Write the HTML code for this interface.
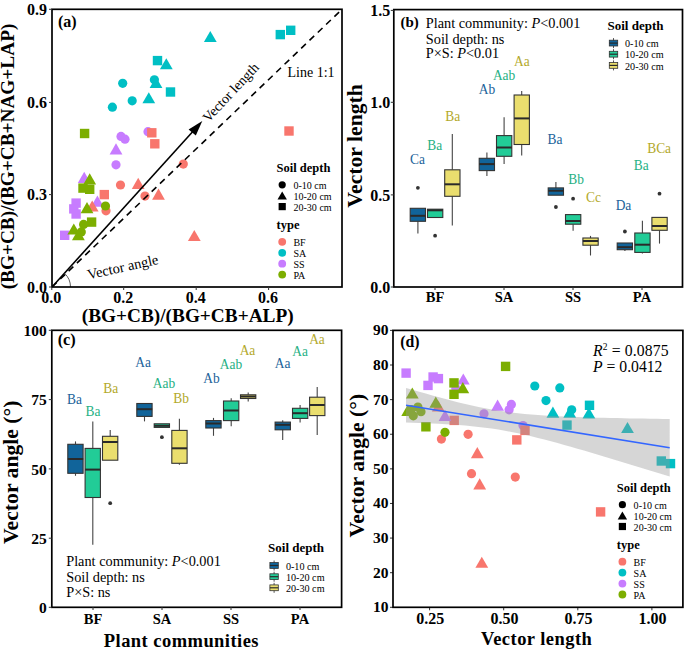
<!DOCTYPE html><html><head><meta charset="utf-8"><style>html,body{margin:0;padding:0;background:#fff;overflow:hidden}svg{display:block}</style></head><body>
<svg width="685" height="652" viewBox="0 0 685 652" style="font-family:'Liberation Serif',serif">
<rect width="685" height="652" fill="#fff"/>
<circle cx="112.4" cy="107.2" r="4.6" fill="#00BFC4"/>
<circle cx="122.7" cy="83.3" r="4.6" fill="#00BFC4"/>
<circle cx="132.2" cy="100.8" r="4.6" fill="#00BFC4"/>
<circle cx="154.4" cy="79.8" r="4.6" fill="#00BFC4"/>
<polygon points="156.0,77.0 149.6,88.0 162.4,88.0" fill="#00BFC4"/>
<polygon points="148.8,92.2 142.4,103.2 155.2,103.2" fill="#00BFC4"/>
<polygon points="166.3,58.2 159.9,69.2 172.7,69.2" fill="#00BFC4"/>
<polygon points="210.3,30.9 203.9,42.0 216.7,42.0" fill="#00BFC4"/>
<rect x="152.8" y="55.9" width="9.4" height="9.4" fill="#00BFC4"/>
<rect x="165.8" y="87.3" width="9.4" height="9.4" fill="#00BFC4"/>
<rect x="275.6" y="29.9" width="9.4" height="9.4" fill="#00BFC4"/>
<rect x="286.0" y="25.6" width="9.4" height="9.4" fill="#00BFC4"/>
<circle cx="121.0" cy="136.4" r="4.6" fill="#C77CFF"/>
<circle cx="125.0" cy="139.2" r="4.6" fill="#C77CFF"/>
<circle cx="148.0" cy="131.7" r="4.6" fill="#C77CFF"/>
<circle cx="116.0" cy="164.8" r="4.6" fill="#C77CFF"/>
<polygon points="116.0,143.2 109.6,154.4 122.4,154.4" fill="#C77CFF"/>
<polygon points="84.2,171.8 77.8,183.0 90.6,183.0" fill="#C77CFF"/>
<polygon points="97.4,195.6 91.0,206.8 103.8,206.8" fill="#C77CFF"/>
<rect x="71.4" y="198.4" width="9.4" height="9.4" fill="#C77CFF"/>
<rect x="69.1" y="204.2" width="9.4" height="9.4" fill="#C77CFF"/>
<rect x="71.4" y="209.3" width="9.4" height="9.4" fill="#C77CFF"/>
<rect x="60.0" y="230.6" width="9.4" height="9.4" fill="#C77CFF"/>
<circle cx="120.5" cy="185.0" r="4.6" fill="#F8766D"/>
<circle cx="145.0" cy="196.1" r="4.6" fill="#F8766D"/>
<circle cx="183.3" cy="164.1" r="4.6" fill="#F8766D"/>
<circle cx="106.0" cy="210.8" r="4.6" fill="#F8766D"/>
<polygon points="138.2,177.8 131.8,188.9 144.6,188.9" fill="#F8766D"/>
<polygon points="158.5,188.6 152.1,199.8 164.9,199.8" fill="#F8766D"/>
<polygon points="194.3,229.9 187.9,241.1 200.7,241.1" fill="#F8766D"/>
<polygon points="92.2,200.4 85.8,211.6 98.6,211.6" fill="#F8766D"/>
<rect x="147.1" y="128.1" width="9.4" height="9.4" fill="#F8766D"/>
<rect x="150.1" y="139.1" width="9.4" height="9.4" fill="#F8766D"/>
<rect x="99.6" y="189.9" width="9.4" height="9.4" fill="#F8766D"/>
<rect x="284.3" y="126.3" width="9.4" height="9.4" fill="#F8766D"/>
<rect x="79.9" y="128.8" width="9.4" height="9.4" fill="#7CAE00"/>
<polygon points="89.7,173.3 83.3,184.5 96.1,184.5" fill="#7CAE00"/>
<rect x="78.3" y="183.4" width="9.4" height="9.4" fill="#7CAE00"/>
<rect x="85.0" y="184.6" width="9.4" height="9.4" fill="#7CAE00"/>
<polygon points="87.0,202.1 80.6,213.2 93.4,213.2" fill="#7CAE00"/>
<circle cx="105.5" cy="206.0" r="4.6" fill="#7CAE00"/>
<rect x="86.9" y="217.4" width="9.4" height="9.4" fill="#7CAE00"/>
<circle cx="83.6" cy="224.4" r="4.6" fill="#7CAE00"/>
<circle cx="81.3" cy="231.9" r="4.6" fill="#7CAE00"/>
<polygon points="73.8,223.4 67.4,234.6 80.2,234.6" fill="#7CAE00"/>
<polygon points="78.4,229.1 72.0,240.2 84.8,240.2" fill="#7CAE00"/>
<line x1="52" y1="287" x2="342" y2="9.3" stroke="#000" stroke-width="1.6" stroke-dasharray="6.5,5"/>
<line x1="52" y1="287" x2="196" y2="128" stroke="#000" stroke-width="1.6"/>
<polygon points="202.3,120.9 188.6,129.6 195.8,135.4" fill="#000"/>
<path d="M 70.5 287 A 18.5 18.5 0 0 0 64.6 273.4" fill="none" stroke="#333" stroke-width="0.8"/>
<rect x="52" y="9.3" width="290" height="277.7" fill="none" stroke="#000" stroke-width="1.7"/>
<line x1="49" y1="9.3" x2="52" y2="9.3" stroke="#333" stroke-width="1"/>
<text x="47" y="15.100000000000001" font-size="16" font-weight="bold" text-anchor="end" fill="#000" >0.9</text>
<line x1="49" y1="102.4" x2="52" y2="102.4" stroke="#333" stroke-width="1"/>
<text x="47" y="108.2" font-size="16" font-weight="bold" text-anchor="end" fill="#000" >0.6</text>
<line x1="49" y1="194.6" x2="52" y2="194.6" stroke="#333" stroke-width="1"/>
<text x="47" y="200.4" font-size="16" font-weight="bold" text-anchor="end" fill="#000" >0.3</text>
<line x1="49" y1="287" x2="52" y2="287" stroke="#333" stroke-width="1"/>
<text x="47" y="292.8" font-size="16" font-weight="bold" text-anchor="end" fill="#000" >0.0</text>
<line x1="51.8" y1="287" x2="51.8" y2="290" stroke="#333" stroke-width="1"/>
<text x="51.3" y="303.1" font-size="16" font-weight="bold" text-anchor="middle" fill="#000" >0.0</text>
<line x1="123.7" y1="287" x2="123.7" y2="290" stroke="#333" stroke-width="1"/>
<text x="123.2" y="303.1" font-size="16" font-weight="bold" text-anchor="middle" fill="#000" >0.2</text>
<line x1="196.2" y1="287" x2="196.2" y2="290" stroke="#333" stroke-width="1"/>
<text x="195.7" y="303.1" font-size="16" font-weight="bold" text-anchor="middle" fill="#000" >0.4</text>
<line x1="268.6" y1="287" x2="268.6" y2="290" stroke="#333" stroke-width="1"/>
<text x="268.1" y="303.1" font-size="16" font-weight="bold" text-anchor="middle" fill="#000" >0.6</text>
<text x="58" y="27" font-size="16" font-weight="bold" text-anchor="start" fill="#000" >(a)</text>
<text x="287.5" y="77.3" font-size="14" font-weight="normal" text-anchor="start" fill="#000" >Line 1:1</text>
<text x="0" y="0" font-size="14" font-weight="normal" text-anchor="start" fill="#000" transform="translate(208.5,123) rotate(-47)">Vector length</text>
<text x="0" y="0" font-size="14.4" font-weight="normal" text-anchor="start" fill="#000" transform="translate(88.5,279.5) rotate(-12.5)">Vector angle</text>
<text x="276.6" y="172" font-size="12.5" font-weight="bold" text-anchor="start" fill="#000" >Soil depth</text>
<circle cx="282.2" cy="184.8" r="3.6" fill="#000"/>
<polygon points="282.2,191.6 277.5,199.6 286.9,199.6" fill="#000"/>
<rect x="278.6" y="203.0" width="7.2" height="7.2" fill="#000"/>
<text x="0" y="0" font-size="10.6" font-weight="normal" text-anchor="start" fill="#000" transform="translate(293.40000000000003,189.2) scale(0.95,1)">0-10 cm</text>
<text x="0" y="0" font-size="10.6" font-weight="normal" text-anchor="start" fill="#000" transform="translate(293.40000000000003,200.0) scale(0.95,1)">10-20 cm</text>
<text x="0" y="0" font-size="10.6" font-weight="normal" text-anchor="start" fill="#000" transform="translate(293.40000000000003,211.0) scale(0.95,1)">20-30 cm</text>
<text x="276.6" y="229" font-size="12.5" font-weight="bold" text-anchor="start" fill="#000" >type</text>
<circle cx="282.2" cy="241.8" r="3.9" fill="#F8766D"/>
<text x="0" y="0" font-size="10.6" font-weight="normal" text-anchor="start" fill="#000" transform="translate(293.40000000000003,246.2) scale(0.95,1)">BF</text>
<circle cx="282.2" cy="252.8" r="3.9" fill="#00BFC4"/>
<text x="0" y="0" font-size="10.6" font-weight="normal" text-anchor="start" fill="#000" transform="translate(293.40000000000003,257.1) scale(0.95,1)">SA</text>
<circle cx="282.2" cy="263.7" r="3.9" fill="#C77CFF"/>
<text x="0" y="0" font-size="10.6" font-weight="normal" text-anchor="start" fill="#000" transform="translate(293.40000000000003,268.1) scale(0.95,1)">SS</text>
<circle cx="282.2" cy="274.6" r="3.9" fill="#7CAE00"/>
<text x="0" y="0" font-size="10.6" font-weight="normal" text-anchor="start" fill="#000" transform="translate(293.40000000000003,279.0) scale(0.95,1)">PA</text>
<text x="187.7" y="321.6" font-size="19.3" font-weight="bold" text-anchor="middle" fill="#000" >(BG+CB)/(BG+CB+ALP)</text>
<text x="0" y="0" font-size="19.3" font-weight="bold" text-anchor="middle" fill="#000" transform="translate(14.3,156.5) rotate(-90)">(BG+CB)/(BG+CB+NAG+LAP)</text>
<rect x="393.8" y="9.6" width="288.7" height="277.4" fill="none" stroke="#000" stroke-width="1.7"/>
<line x1="390.8" y1="10.4" x2="393.8" y2="10.4" stroke="#333" stroke-width="1"/>
<text x="390.2" y="16.1" font-size="16" font-weight="bold" text-anchor="end" fill="#000" >1.5</text>
<line x1="390.8" y1="102.3" x2="393.8" y2="102.3" stroke="#333" stroke-width="1"/>
<text x="390.2" y="108.0" font-size="16" font-weight="bold" text-anchor="end" fill="#000" >1.0</text>
<line x1="390.8" y1="194.9" x2="393.8" y2="194.9" stroke="#333" stroke-width="1"/>
<text x="390.2" y="200.6" font-size="16" font-weight="bold" text-anchor="end" fill="#000" >0.5</text>
<line x1="390.8" y1="287" x2="393.8" y2="287" stroke="#333" stroke-width="1"/>
<text x="390.2" y="292.7" font-size="16" font-weight="bold" text-anchor="end" fill="#000" >0.0</text>
<line x1="435" y1="287" x2="435" y2="290" stroke="#333" stroke-width="1"/>
<text x="435" y="302.2" font-size="14.5" font-weight="bold" text-anchor="middle" fill="#000" >BF</text>
<line x1="504" y1="287" x2="504" y2="290" stroke="#333" stroke-width="1"/>
<text x="504" y="302.2" font-size="14.5" font-weight="bold" text-anchor="middle" fill="#000" >SA</text>
<line x1="573" y1="287" x2="573" y2="290" stroke="#333" stroke-width="1"/>
<text x="573" y="302.2" font-size="14.5" font-weight="bold" text-anchor="middle" fill="#000" >SS</text>
<line x1="642" y1="287" x2="642" y2="290" stroke="#333" stroke-width="1"/>
<text x="642" y="302.2" font-size="14.5" font-weight="bold" text-anchor="middle" fill="#000" >PA</text>
<text x="400.4" y="27.3" font-size="15" font-weight="bold" text-anchor="start" fill="#000" >(b)</text>
<text x="425.8" y="28.2" font-size="14.3" font-weight="normal" text-anchor="start" fill="#000" >Plant community: <tspan font-style="italic">P</tspan>&lt;0.001</text>
<text x="425.8" y="43.6" font-size="14.3" font-weight="normal" text-anchor="start" fill="#000" >Soil depth: ns</text>
<text x="425.8" y="58.2" font-size="14.3" font-weight="normal" text-anchor="start" fill="#000" >P×S: <tspan font-style="italic">P</tspan>&lt;0.01</text>
<text x="607.5" y="29.7" font-size="13" font-weight="bold" text-anchor="start" fill="#000" >Soil depth</text>
<line x1="613.5" y1="38.1" x2="613.5" y2="48.1" stroke="#555" stroke-width="1"/>
<rect x="609.3" y="40.2" width="8.4" height="5.8" fill="#11649A" stroke="#333" stroke-width="0.8"/>
<line x1="609.3" y1="43.1" x2="617.7" y2="43.1" stroke="#2a2a2a" stroke-width="1.2"/>
<text x="0" y="0" font-size="10.7" font-weight="normal" text-anchor="start" fill="#000" transform="translate(625,47.2) scale(0.95,1)">0-10 cm</text>
<line x1="613.5" y1="49.2" x2="613.5" y2="59.2" stroke="#555" stroke-width="1"/>
<rect x="609.3" y="51.300000000000004" width="8.4" height="5.8" fill="#22CC97" stroke="#333" stroke-width="0.8"/>
<line x1="609.3" y1="54.2" x2="617.7" y2="54.2" stroke="#2a2a2a" stroke-width="1.2"/>
<text x="0" y="0" font-size="10.7" font-weight="normal" text-anchor="start" fill="#000" transform="translate(625,58.3) scale(0.95,1)">10-20 cm</text>
<line x1="613.5" y1="60.400000000000006" x2="613.5" y2="70.4" stroke="#555" stroke-width="1"/>
<rect x="609.3" y="62.50000000000001" width="8.4" height="5.8" fill="#EADE6E" stroke="#333" stroke-width="0.8"/>
<line x1="609.3" y1="65.4" x2="617.7" y2="65.4" stroke="#2a2a2a" stroke-width="1.2"/>
<text x="0" y="0" font-size="10.7" font-weight="normal" text-anchor="start" fill="#000" transform="translate(625,69.5) scale(0.95,1)">20-30 cm</text>
<text x="0" y="0" font-size="21.7" font-weight="bold" text-anchor="middle" fill="#000" transform="translate(361.8,145.9) rotate(-90)">Vector length</text>
<line x1="417.9" y1="221.3" x2="417.9" y2="233.6" stroke="#444" stroke-width="1.1"/>
<rect x="410.2" y="208.3" width="15.3" height="13.0" fill="#11649A" stroke="#333" stroke-width="1.1"/>
<line x1="410.2" y1="215.8" x2="425.5" y2="215.8" stroke="#2a2a2a" stroke-width="2"/>
<circle cx="417.9" cy="187.8" r="1.9" fill="#333"/>
<rect x="427.5" y="209.2" width="15.3" height="8.3" fill="#22CC97" stroke="#333" stroke-width="1.1"/>
<line x1="427.5" y1="210.3" x2="442.8" y2="210.3" stroke="#2a2a2a" stroke-width="2"/>
<circle cx="435.1" cy="235.7" r="1.9" fill="#333"/>
<line x1="452.3" y1="134" x2="452.3" y2="169.8" stroke="#444" stroke-width="1.1"/>
<line x1="452.3" y1="196.3" x2="452.3" y2="225.6" stroke="#444" stroke-width="1.1"/>
<rect x="444.7" y="169.8" width="15.3" height="26.5" fill="#EADE6E" stroke="#333" stroke-width="1.1"/>
<line x1="444.7" y1="184.3" x2="459.9" y2="184.3" stroke="#2a2a2a" stroke-width="2"/>
<line x1="486.9" y1="152.5" x2="486.9" y2="158.3" stroke="#444" stroke-width="1.1"/>
<line x1="486.9" y1="170.6" x2="486.9" y2="175.9" stroke="#444" stroke-width="1.1"/>
<rect x="479.2" y="158.3" width="15.3" height="12.3" fill="#11649A" stroke="#333" stroke-width="1.1"/>
<line x1="479.2" y1="164.1" x2="494.5" y2="164.1" stroke="#2a2a2a" stroke-width="2"/>
<line x1="504.1" y1="117.2" x2="504.1" y2="135.6" stroke="#444" stroke-width="1.1"/>
<line x1="504.1" y1="156.3" x2="504.1" y2="164.1" stroke="#444" stroke-width="1.1"/>
<rect x="496.5" y="135.6" width="15.3" height="20.7" fill="#22CC97" stroke="#333" stroke-width="1.1"/>
<line x1="496.5" y1="147.5" x2="511.8" y2="147.5" stroke="#2a2a2a" stroke-width="2"/>
<line x1="521.7" y1="91" x2="521.7" y2="95" stroke="#444" stroke-width="1.1"/>
<line x1="521.7" y1="144.5" x2="521.7" y2="155.5" stroke="#444" stroke-width="1.1"/>
<rect x="514.1" y="95" width="15.3" height="49.5" fill="#EADE6E" stroke="#333" stroke-width="1.1"/>
<line x1="514.1" y1="118.4" x2="529.4" y2="118.4" stroke="#2a2a2a" stroke-width="2"/>
<line x1="555.9" y1="182.1" x2="555.9" y2="187.9" stroke="#444" stroke-width="1.1"/>
<rect x="548.2" y="187.9" width="15.3" height="7.3" fill="#11649A" stroke="#333" stroke-width="1.1"/>
<line x1="548.2" y1="190.7" x2="563.5" y2="190.7" stroke="#2a2a2a" stroke-width="2"/>
<circle cx="555.9" cy="207" r="1.9" fill="#333"/>
<line x1="573.1" y1="224.2" x2="573.1" y2="230.7" stroke="#444" stroke-width="1.1"/>
<rect x="565.5" y="214.6" width="15.3" height="9.6" fill="#22CC97" stroke="#333" stroke-width="1.1"/>
<line x1="565.5" y1="221" x2="580.8" y2="221" stroke="#2a2a2a" stroke-width="2"/>
<circle cx="573.1" cy="198.7" r="1.9" fill="#333"/>
<line x1="590.5" y1="235.9" x2="590.5" y2="238" stroke="#444" stroke-width="1.1"/>
<line x1="590.5" y1="245.2" x2="590.5" y2="255.5" stroke="#444" stroke-width="1.1"/>
<rect x="582.9" y="238" width="15.3" height="7.2" fill="#EADE6E" stroke="#333" stroke-width="1.1"/>
<line x1="582.9" y1="241" x2="598.1" y2="241" stroke="#2a2a2a" stroke-width="2"/>
<line x1="624.9" y1="249.7" x2="624.9" y2="250.9" stroke="#444" stroke-width="1.1"/>
<rect x="617.2" y="243" width="15.3" height="6.7" fill="#11649A" stroke="#333" stroke-width="1.1"/>
<line x1="617.2" y1="247.2" x2="632.5" y2="247.2" stroke="#2a2a2a" stroke-width="2"/>
<circle cx="624.9" cy="231.5" r="1.9" fill="#333"/>
<line x1="642.4" y1="220.7" x2="642.4" y2="233" stroke="#444" stroke-width="1.1"/>
<line x1="642.4" y1="252.4" x2="642.4" y2="253.6" stroke="#444" stroke-width="1.1"/>
<rect x="634.8" y="233" width="15.3" height="19.4" fill="#22CC97" stroke="#333" stroke-width="1.1"/>
<line x1="634.8" y1="244.7" x2="650.0" y2="244.7" stroke="#2a2a2a" stroke-width="2"/>
<line x1="659.5" y1="230.3" x2="659.5" y2="243.6" stroke="#444" stroke-width="1.1"/>
<rect x="651.9" y="217.4" width="15.3" height="12.9" fill="#EADE6E" stroke="#333" stroke-width="1.1"/>
<line x1="651.9" y1="226" x2="667.1" y2="226" stroke="#2a2a2a" stroke-width="2"/>
<circle cx="659.5" cy="193.7" r="1.9" fill="#333"/>
<text x="0" y="0" font-size="14" font-weight="normal" text-anchor="middle" fill="#22639A" transform="translate(417.5,163.5) scale(0.96,1)">Ca</text>
<text x="0" y="0" font-size="14" font-weight="normal" text-anchor="middle" fill="#27B184" transform="translate(434.7,149.9) scale(0.96,1)">Ba</text>
<text x="0" y="0" font-size="14" font-weight="normal" text-anchor="middle" fill="#B3A92C" transform="translate(452.7,120.89999999999999) scale(0.96,1)">Ba</text>
<text x="0" y="0" font-size="14" font-weight="normal" text-anchor="middle" fill="#22639A" transform="translate(486.9,94.19999999999999) scale(0.96,1)">Ab</text>
<text x="0" y="0" font-size="14" font-weight="normal" text-anchor="middle" fill="#27B184" transform="translate(504.1,80.39999999999999) scale(0.96,1)">Aab</text>
<text x="0" y="0" font-size="14" font-weight="normal" text-anchor="middle" fill="#B3A92C" transform="translate(521.8,66.39999999999999) scale(0.96,1)">Aa</text>
<text x="0" y="0" font-size="14" font-weight="normal" text-anchor="middle" fill="#22639A" transform="translate(555,144.29999999999998) scale(0.96,1)">Ba</text>
<text x="0" y="0" font-size="14" font-weight="normal" text-anchor="middle" fill="#27B184" transform="translate(576.1,183.9) scale(0.96,1)">Bb</text>
<text x="0" y="0" font-size="14" font-weight="normal" text-anchor="middle" fill="#B3A92C" transform="translate(593.5,201.79999999999998) scale(0.96,1)">Cc</text>
<text x="0" y="0" font-size="14" font-weight="normal" text-anchor="middle" fill="#22639A" transform="translate(623.5,209.5) scale(0.96,1)">Da</text>
<text x="0" y="0" font-size="14" font-weight="normal" text-anchor="middle" fill="#27B184" transform="translate(641.2,170.4) scale(0.96,1)">Ba</text>
<text x="0" y="0" font-size="14" font-weight="normal" text-anchor="middle" fill="#B3A92C" transform="translate(659.1,153.29999999999998) scale(0.96,1)">BCa</text>
<rect x="51.8" y="330.3" width="289.8" height="276.99999999999994" fill="none" stroke="#000" stroke-width="1.7"/>
<line x1="48.8" y1="330.3" x2="51.8" y2="330.3" stroke="#333" stroke-width="1"/>
<text x="46.8" y="336.0" font-size="15.5" font-weight="bold" text-anchor="end" fill="#000" >100</text>
<line x1="48.8" y1="399.6" x2="51.8" y2="399.6" stroke="#333" stroke-width="1"/>
<text x="46.8" y="405.3" font-size="15.5" font-weight="bold" text-anchor="end" fill="#000" >75</text>
<line x1="48.8" y1="468.9" x2="51.8" y2="468.9" stroke="#333" stroke-width="1"/>
<text x="46.8" y="474.59999999999997" font-size="15.5" font-weight="bold" text-anchor="end" fill="#000" >50</text>
<line x1="48.8" y1="538.2" x2="51.8" y2="538.2" stroke="#333" stroke-width="1"/>
<text x="46.8" y="543.9000000000001" font-size="15.5" font-weight="bold" text-anchor="end" fill="#000" >25</text>
<line x1="48.8" y1="607.3" x2="51.8" y2="607.3" stroke="#333" stroke-width="1"/>
<text x="46.8" y="613.0" font-size="15.5" font-weight="bold" text-anchor="end" fill="#000" >0</text>
<line x1="93" y1="607" x2="93" y2="610" stroke="#333" stroke-width="1"/>
<text x="93" y="623.8" font-size="14.5" font-weight="bold" text-anchor="middle" fill="#000" >BF</text>
<line x1="162" y1="607" x2="162" y2="610" stroke="#333" stroke-width="1"/>
<text x="162" y="623.8" font-size="14.5" font-weight="bold" text-anchor="middle" fill="#000" >SA</text>
<line x1="231" y1="607" x2="231" y2="610" stroke="#333" stroke-width="1"/>
<text x="231" y="623.8" font-size="14.5" font-weight="bold" text-anchor="middle" fill="#000" >SS</text>
<line x1="300" y1="607" x2="300" y2="610" stroke="#333" stroke-width="1"/>
<text x="300" y="623.8" font-size="14.5" font-weight="bold" text-anchor="middle" fill="#000" >PA</text>
<text x="57.7" y="345.4" font-size="16.3" font-weight="bold" text-anchor="start" fill="#000" >(c)</text>
<line x1="75.5" y1="441.4" x2="75.5" y2="444.3" stroke="#444" stroke-width="1.1"/>
<line x1="75.5" y1="473.3" x2="75.5" y2="475.8" stroke="#444" stroke-width="1.1"/>
<rect x="67.8" y="444.3" width="15.3" height="29.0" fill="#11649A" stroke="#333" stroke-width="1.1"/>
<line x1="67.8" y1="459" x2="83.2" y2="459" stroke="#2a2a2a" stroke-width="2"/>
<line x1="92.8" y1="421.5" x2="92.8" y2="448.4" stroke="#444" stroke-width="1.1"/>
<line x1="92.8" y1="497.5" x2="92.8" y2="544.8" stroke="#444" stroke-width="1.1"/>
<rect x="85.1" y="448.4" width="15.3" height="49.1" fill="#22CC97" stroke="#333" stroke-width="1.1"/>
<line x1="85.1" y1="469.6" x2="100.5" y2="469.6" stroke="#2a2a2a" stroke-width="2"/>
<line x1="110.2" y1="430" x2="110.2" y2="436.3" stroke="#444" stroke-width="1.1"/>
<rect x="102.5" y="436.3" width="15.3" height="23.9" fill="#EADE6E" stroke="#333" stroke-width="1.1"/>
<line x1="102.5" y1="442" x2="117.9" y2="442" stroke="#2a2a2a" stroke-width="2"/>
<circle cx="110.2" cy="503.2" r="1.9" fill="#333"/>
<line x1="144.5" y1="416.4" x2="144.5" y2="421.4" stroke="#444" stroke-width="1.1"/>
<rect x="136.8" y="403.5" width="15.3" height="12.9" fill="#11649A" stroke="#333" stroke-width="1.1"/>
<line x1="136.8" y1="409.2" x2="152.2" y2="409.2" stroke="#2a2a2a" stroke-width="2"/>
<rect x="154.2" y="423.8" width="15.3" height="3.6" fill="#22CC97" stroke="#333" stroke-width="1.1"/>
<line x1="154.2" y1="425.8" x2="169.6" y2="425.8" stroke="#2a2a2a" stroke-width="2"/>
<circle cx="161.9" cy="437.2" r="1.9" fill="#333"/>
<line x1="179.4" y1="418.8" x2="179.4" y2="430.4" stroke="#444" stroke-width="1.1"/>
<line x1="179.4" y1="463.3" x2="179.4" y2="464.7" stroke="#444" stroke-width="1.1"/>
<rect x="171.8" y="430.4" width="15.3" height="32.9" fill="#EADE6E" stroke="#333" stroke-width="1.1"/>
<line x1="171.8" y1="448.3" x2="187.1" y2="448.3" stroke="#2a2a2a" stroke-width="2"/>
<line x1="213.5" y1="417.9" x2="213.5" y2="420.6" stroke="#444" stroke-width="1.1"/>
<line x1="213.5" y1="428" x2="213.5" y2="435.8" stroke="#444" stroke-width="1.1"/>
<rect x="205.8" y="420.6" width="15.3" height="7.4" fill="#11649A" stroke="#333" stroke-width="1.1"/>
<line x1="205.8" y1="423.5" x2="221.2" y2="423.5" stroke="#2a2a2a" stroke-width="2"/>
<line x1="231.2" y1="398.2" x2="231.2" y2="401" stroke="#444" stroke-width="1.1"/>
<line x1="231.2" y1="420.6" x2="231.2" y2="426.3" stroke="#444" stroke-width="1.1"/>
<rect x="223.5" y="401" width="15.3" height="19.6" fill="#22CC97" stroke="#333" stroke-width="1.1"/>
<line x1="223.5" y1="410.5" x2="238.8" y2="410.5" stroke="#2a2a2a" stroke-width="2"/>
<line x1="248.2" y1="392.6" x2="248.2" y2="394.8" stroke="#444" stroke-width="1.1"/>
<line x1="248.2" y1="398.5" x2="248.2" y2="401.6" stroke="#444" stroke-width="1.1"/>
<rect x="240.5" y="394.8" width="15.3" height="3.7" fill="#EADE6E" stroke="#333" stroke-width="1.1"/>
<line x1="240.5" y1="396.5" x2="255.8" y2="396.5" stroke="#2a2a2a" stroke-width="2"/>
<line x1="282.7" y1="420.2" x2="282.7" y2="422.1" stroke="#444" stroke-width="1.1"/>
<line x1="282.7" y1="429.8" x2="282.7" y2="440" stroke="#444" stroke-width="1.1"/>
<rect x="275.1" y="422.1" width="15.3" height="7.7" fill="#11649A" stroke="#333" stroke-width="1.1"/>
<line x1="275.1" y1="424.8" x2="290.3" y2="424.8" stroke="#2a2a2a" stroke-width="2"/>
<line x1="300.1" y1="405.1" x2="300.1" y2="408.3" stroke="#444" stroke-width="1.1"/>
<line x1="300.1" y1="418.4" x2="300.1" y2="422.4" stroke="#444" stroke-width="1.1"/>
<rect x="292.5" y="408.3" width="15.3" height="10.1" fill="#22CC97" stroke="#333" stroke-width="1.1"/>
<line x1="292.5" y1="413.2" x2="307.8" y2="413.2" stroke="#2a2a2a" stroke-width="2"/>
<line x1="317.2" y1="387.1" x2="317.2" y2="397.2" stroke="#444" stroke-width="1.1"/>
<line x1="317.2" y1="415.6" x2="317.2" y2="435" stroke="#444" stroke-width="1.1"/>
<rect x="309.6" y="397.2" width="15.3" height="18.4" fill="#EADE6E" stroke="#333" stroke-width="1.1"/>
<line x1="309.6" y1="405" x2="324.8" y2="405" stroke="#2a2a2a" stroke-width="2"/>
<text x="0" y="0" font-size="14" font-weight="normal" text-anchor="middle" fill="#22639A" transform="translate(74.5,404.3) scale(0.96,1)">Ba</text>
<text x="0" y="0" font-size="14" font-weight="normal" text-anchor="middle" fill="#27B184" transform="translate(93,415.90000000000003) scale(0.96,1)">Ba</text>
<text x="0" y="0" font-size="14" font-weight="normal" text-anchor="middle" fill="#B3A92C" transform="translate(110.8,393.1) scale(0.96,1)">Ba</text>
<text x="0" y="0" font-size="14" font-weight="normal" text-anchor="middle" fill="#22639A" transform="translate(143.2,367.1) scale(0.96,1)">Aa</text>
<text x="0" y="0" font-size="14" font-weight="normal" text-anchor="middle" fill="#27B184" transform="translate(163.9,388.40000000000003) scale(0.96,1)">Aab</text>
<text x="0" y="0" font-size="14" font-weight="normal" text-anchor="middle" fill="#B3A92C" transform="translate(181.2,403.0) scale(0.96,1)">Bb</text>
<text x="0" y="0" font-size="14" font-weight="normal" text-anchor="middle" fill="#22639A" transform="translate(211.5,383.1) scale(0.96,1)">Ab</text>
<text x="0" y="0" font-size="14" font-weight="normal" text-anchor="middle" fill="#27B184" transform="translate(230.9,369.1) scale(0.96,1)">Aab</text>
<text x="0" y="0" font-size="14" font-weight="normal" text-anchor="middle" fill="#B3A92C" transform="translate(247.5,354.90000000000003) scale(0.96,1)">Aa</text>
<text x="0" y="0" font-size="14" font-weight="normal" text-anchor="middle" fill="#22639A" transform="translate(282.7,367.90000000000003) scale(0.96,1)">Aa</text>
<text x="0" y="0" font-size="14" font-weight="normal" text-anchor="middle" fill="#27B184" transform="translate(300.2,355.90000000000003) scale(0.96,1)">Aa</text>
<text x="0" y="0" font-size="14" font-weight="normal" text-anchor="middle" fill="#B3A92C" transform="translate(317,343.90000000000003) scale(0.96,1)">Aa</text>
<text x="66.2" y="566.1" font-size="14.3" font-weight="normal" text-anchor="start" fill="#000" >Plant community: <tspan font-style="italic">P</tspan>&lt;0.001</text>
<text x="66.2" y="581.8" font-size="14.3" font-weight="normal" text-anchor="start" fill="#000" >Soil depth: ns</text>
<text x="66.2" y="596.9" font-size="14.3" font-weight="normal" text-anchor="start" fill="#000" >P×S: ns</text>
<text x="268.1" y="551.7" font-size="13" font-weight="bold" text-anchor="start" fill="#000" >Soil depth</text>
<line x1="274.1" y1="560.5" x2="274.1" y2="570.5" stroke="#555" stroke-width="1"/>
<rect x="269.90000000000003" y="562.6" width="8.4" height="5.8" fill="#11649A" stroke="#333" stroke-width="0.8"/>
<line x1="269.90000000000003" y1="565.5" x2="278.3" y2="565.5" stroke="#2a2a2a" stroke-width="1.2"/>
<text x="0" y="0" font-size="10.7" font-weight="normal" text-anchor="start" fill="#000" transform="translate(285.9,569.6) scale(0.95,1)">0-10 cm</text>
<line x1="274.1" y1="571.7" x2="274.1" y2="581.7" stroke="#555" stroke-width="1"/>
<rect x="269.90000000000003" y="573.8000000000001" width="8.4" height="5.8" fill="#22CC97" stroke="#333" stroke-width="0.8"/>
<line x1="269.90000000000003" y1="576.7" x2="278.3" y2="576.7" stroke="#2a2a2a" stroke-width="1.2"/>
<text x="0" y="0" font-size="10.7" font-weight="normal" text-anchor="start" fill="#000" transform="translate(285.9,580.8) scale(0.95,1)">10-20 cm</text>
<line x1="274.1" y1="582.8" x2="274.1" y2="592.8" stroke="#555" stroke-width="1"/>
<rect x="269.90000000000003" y="584.9" width="8.4" height="5.8" fill="#EADE6E" stroke="#333" stroke-width="0.8"/>
<line x1="269.90000000000003" y1="587.8" x2="278.3" y2="587.8" stroke="#2a2a2a" stroke-width="1.2"/>
<text x="0" y="0" font-size="10.7" font-weight="normal" text-anchor="start" fill="#000" transform="translate(285.9,591.9) scale(0.95,1)">20-30 cm</text>
<text x="0" y="0" font-size="21.7" font-weight="bold" text-anchor="middle" fill="#000" transform="translate(17.5,472.3) rotate(-90)">Vector angle (°)</text>
<text x="181.4" y="647" font-size="18.5" font-weight="bold" text-anchor="middle" fill="#000" letter-spacing="0.45">Plant communities</text>
<line x1="390" y1="607.304" x2="393" y2="607.304" stroke="#333" stroke-width="1"/>
<text x="388.6" y="612.204" font-size="15.5" font-weight="bold" text-anchor="end" fill="#000" >10</text>
<line x1="390" y1="572.691" x2="393" y2="572.691" stroke="#333" stroke-width="1"/>
<text x="388.6" y="577.591" font-size="15.5" font-weight="bold" text-anchor="end" fill="#000" >20</text>
<line x1="390" y1="538.078" x2="393" y2="538.078" stroke="#333" stroke-width="1"/>
<text x="388.6" y="542.978" font-size="15.5" font-weight="bold" text-anchor="end" fill="#000" >30</text>
<line x1="390" y1="503.465" x2="393" y2="503.465" stroke="#333" stroke-width="1"/>
<text x="388.6" y="508.36499999999995" font-size="15.5" font-weight="bold" text-anchor="end" fill="#000" >40</text>
<line x1="390" y1="468.852" x2="393" y2="468.852" stroke="#333" stroke-width="1"/>
<text x="388.6" y="473.75199999999995" font-size="15.5" font-weight="bold" text-anchor="end" fill="#000" >50</text>
<line x1="390" y1="434.239" x2="393" y2="434.239" stroke="#333" stroke-width="1"/>
<text x="388.6" y="439.13899999999995" font-size="15.5" font-weight="bold" text-anchor="end" fill="#000" >60</text>
<line x1="390" y1="399.626" x2="393" y2="399.626" stroke="#333" stroke-width="1"/>
<text x="388.6" y="404.52599999999995" font-size="15.5" font-weight="bold" text-anchor="end" fill="#000" >70</text>
<line x1="390" y1="365.013" x2="393" y2="365.013" stroke="#333" stroke-width="1"/>
<text x="388.6" y="369.91299999999995" font-size="15.5" font-weight="bold" text-anchor="end" fill="#000" >80</text>
<line x1="390" y1="330.4" x2="393" y2="330.4" stroke="#333" stroke-width="1"/>
<text x="388.6" y="335.29999999999995" font-size="15.5" font-weight="bold" text-anchor="end" fill="#000" >90</text>
<line x1="429.6" y1="607.3" x2="429.6" y2="610.3" stroke="#333" stroke-width="1"/>
<text x="430.3" y="624.3" font-size="16" font-weight="bold" text-anchor="middle" fill="#000" >0.25</text>
<line x1="503.7" y1="607.3" x2="503.7" y2="610.3" stroke="#333" stroke-width="1"/>
<text x="504.4" y="624.3" font-size="16" font-weight="bold" text-anchor="middle" fill="#000" >0.50</text>
<line x1="577.8" y1="607.3" x2="577.8" y2="610.3" stroke="#333" stroke-width="1"/>
<text x="578.5" y="624.3" font-size="16" font-weight="bold" text-anchor="middle" fill="#000" >0.75</text>
<line x1="651.9" y1="607.3" x2="651.9" y2="610.3" stroke="#333" stroke-width="1"/>
<text x="652.6" y="624.3" font-size="16" font-weight="bold" text-anchor="middle" fill="#000" >1.00</text>
<circle cx="534.8" cy="386.0" r="4.6" fill="#00BFC4"/>
<circle cx="559.8" cy="387.9" r="4.6" fill="#00BFC4"/>
<circle cx="546.0" cy="400.6" r="4.6" fill="#00BFC4"/>
<circle cx="571.7" cy="409.8" r="4.6" fill="#00BFC4"/>
<polygon points="552.9,406.6 546.5,417.7 559.3,417.7" fill="#00BFC4"/>
<polygon points="569.7,406.6 563.3,417.7 576.1,417.7" fill="#00BFC4"/>
<polygon points="588.9,407.4 582.5,418.6 595.3,418.6" fill="#00BFC4"/>
<polygon points="627.5,421.9 621.1,433.1 633.9,433.1" fill="#00BFC4"/>
<rect x="562.3" y="420.4" width="9.4" height="9.4" fill="#00BFC4"/>
<rect x="584.8" y="400.6" width="9.4" height="9.4" fill="#00BFC4"/>
<rect x="656.6" y="456.3" width="9.4" height="9.4" fill="#00BFC4"/>
<rect x="665.8" y="458.9" width="9.4" height="9.4" fill="#00BFC4"/>
<circle cx="441.4" cy="439.1" r="4.6" fill="#F8766D"/>
<circle cx="468.1" cy="434.3" r="4.6" fill="#F8766D"/>
<circle cx="471.5" cy="473.7" r="4.6" fill="#F8766D"/>
<circle cx="515.3" cy="477.1" r="4.6" fill="#F8766D"/>
<polygon points="438.3,400.4 431.9,411.6 444.7,411.6" fill="#F8766D"/>
<polygon points="477.3,447.1 470.9,458.2 483.7,458.2" fill="#F8766D"/>
<polygon points="479.7,478.3 473.3,489.4 486.1,489.4" fill="#F8766D"/>
<polygon points="481.8,556.7 475.4,567.8 488.2,567.8" fill="#F8766D"/>
<rect x="449.5" y="415.7" width="9.4" height="9.4" fill="#F8766D"/>
<rect x="512.1" y="435.2" width="9.4" height="9.4" fill="#F8766D"/>
<rect x="595.9" y="507.2" width="9.4" height="9.4" fill="#F8766D"/>
<circle cx="523.0" cy="425.5" r="4.6" fill="#C77CFF"/>
<rect x="520.3" y="425.7" width="9.4" height="9.4" fill="#F8766D"/>
<rect x="401.4" y="368.4" width="9.4" height="9.4" fill="#C77CFF"/>
<rect x="423.3" y="380.7" width="9.4" height="9.4" fill="#C77CFF"/>
<rect x="428.4" y="372.3" width="9.4" height="9.4" fill="#C77CFF"/>
<rect x="433.7" y="373.9" width="9.4" height="9.4" fill="#C77CFF"/>
<circle cx="455.8" cy="388.6" r="4.6" fill="#C77CFF"/>
<polygon points="463.3,373.4 456.9,384.6 469.7,384.6" fill="#C77CFF"/>
<polygon points="445.0,409.8 438.6,420.9 451.4,420.9" fill="#C77CFF"/>
<polygon points="497.6,399.6 491.2,410.8 504.0,410.8" fill="#C77CFF"/>
<circle cx="484.0" cy="413.8" r="4.6" fill="#C77CFF"/>
<circle cx="511.4" cy="404.4" r="4.6" fill="#C77CFF"/>
<circle cx="509.1" cy="409.8" r="4.6" fill="#C77CFF"/>
<rect x="449.3" y="378.2" width="9.4" height="9.4" fill="#7CAE00"/>
<rect x="449.3" y="389.6" width="9.4" height="9.4" fill="#7CAE00"/>
<rect x="421.2" y="422.1" width="9.4" height="9.4" fill="#7CAE00"/>
<rect x="500.9" y="361.7" width="9.4" height="9.4" fill="#7CAE00"/>
<polygon points="412.3,387.4 405.9,398.6 418.7,398.6" fill="#7CAE00"/>
<polygon points="435.8,396.6 429.4,407.8 442.2,407.8" fill="#7CAE00"/>
<polygon points="407.7,404.8 401.3,415.9 414.1,415.9" fill="#7CAE00"/>
<polygon points="462.8,382.1 456.4,393.2 469.2,393.2" fill="#7CAE00"/>
<circle cx="411.2" cy="409.6" r="4.6" fill="#7CAE00"/>
<circle cx="417.9" cy="407.1" r="4.6" fill="#7CAE00"/>
<circle cx="421.0" cy="411.7" r="4.6" fill="#7CAE00"/>
<circle cx="413.3" cy="415.8" r="4.6" fill="#7CAE00"/>
<circle cx="445.0" cy="432.3" r="4.6" fill="#7CAE00"/>
<path d="M 406.0 387.9 L 412.6 389.8 L 419.2 391.7 L 425.8 393.6 L 432.4 395.4 L 439.0 397.2 L 445.6 399.0 L 452.1 400.7 L 458.7 402.4 L 465.3 404.0 L 471.9 405.5 L 478.5 407.0 L 485.1 408.3 L 491.7 409.5 L 498.3 410.6 L 504.9 411.6 L 511.5 412.5 L 518.1 413.3 L 524.7 414.0 L 531.3 414.6 L 537.9 415.1 L 544.4 415.5 L 551.0 415.9 L 557.6 416.3 L 564.2 416.6 L 570.8 416.8 L 577.4 417.1 L 584.0 417.3 L 590.6 417.5 L 597.2 417.7 L 603.8 417.8 L 610.4 418.0 L 617.0 418.1 L 623.6 418.3 L 630.1 418.4 L 636.7 418.5 L 643.3 418.6 L 649.9 418.7 L 656.5 418.8 L 663.1 418.9 L 669.7 418.9 L 669.7 476.6 L 663.1 474.6 L 656.5 472.5 L 649.9 470.5 L 643.3 468.5 L 636.7 466.4 L 630.1 464.4 L 623.6 462.4 L 617.0 460.4 L 610.4 458.4 L 603.8 456.4 L 597.2 454.5 L 590.6 452.5 L 584.0 450.6 L 577.4 448.7 L 570.8 446.8 L 564.2 444.9 L 557.6 443.1 L 551.0 441.3 L 544.4 439.6 L 537.9 437.9 L 531.3 436.3 L 524.7 434.8 L 518.1 433.3 L 511.5 432.0 L 504.9 430.7 L 498.3 429.6 L 491.7 428.6 L 485.1 427.7 L 478.5 426.9 L 471.9 426.2 L 465.3 425.6 L 458.7 425.0 L 452.1 424.6 L 445.6 424.2 L 439.0 423.8 L 432.4 423.5 L 425.8 423.2 L 419.2 423.0 L 412.6 422.7 L 406.0 422.5 Z" fill="#999" fill-opacity="0.4"/>
<line x1="406" y1="405.2" x2="669.7" y2="447.8" stroke="#3366FF" stroke-width="1.6"/>
<rect x="393" y="330.4" width="289.9" height="276.9" fill="none" stroke="#000" stroke-width="1.7"/>
<text x="400.2" y="347" font-size="15.8" font-weight="bold" text-anchor="start" fill="#000" >(d)</text>
<text x="593" y="356" font-size="15.7" font-weight="normal" text-anchor="start" fill="#000" letter-spacing="0.15"><tspan font-style="italic">R</tspan><tspan font-size="9.5" dy="-5.8">2</tspan><tspan dy="5.8"> = 0.0875</tspan></text>
<text x="593" y="371.6" font-size="15.7" font-weight="normal" text-anchor="start" fill="#000" ><tspan font-style="italic">P</tspan> = 0.0412</text>
<text x="616.8" y="491.9" font-size="12.5" font-weight="bold" text-anchor="start" fill="#000" >Soil depth</text>
<circle cx="622.4" cy="504.7" r="3.6" fill="#000"/>
<polygon points="622.4,511.5 617.7,519.5 627.1,519.5" fill="#000"/>
<rect x="618.8" y="522.9" width="7.2" height="7.2" fill="#000"/>
<text x="0" y="0" font-size="10.6" font-weight="normal" text-anchor="start" fill="#000" transform="translate(633.5999999999999,509.1) scale(0.95,1)">0-10 cm</text>
<text x="0" y="0" font-size="10.6" font-weight="normal" text-anchor="start" fill="#000" transform="translate(633.5999999999999,519.9) scale(0.95,1)">10-20 cm</text>
<text x="0" y="0" font-size="10.6" font-weight="normal" text-anchor="start" fill="#000" transform="translate(633.5999999999999,530.9) scale(0.95,1)">20-30 cm</text>
<text x="616.8" y="548.9" font-size="12.5" font-weight="bold" text-anchor="start" fill="#000" >type</text>
<circle cx="622.4" cy="561.7" r="3.9" fill="#F8766D"/>
<text x="0" y="0" font-size="10.6" font-weight="normal" text-anchor="start" fill="#000" transform="translate(633.5999999999999,566.1) scale(0.95,1)">BF</text>
<circle cx="622.4" cy="572.6" r="3.9" fill="#00BFC4"/>
<text x="0" y="0" font-size="10.6" font-weight="normal" text-anchor="start" fill="#000" transform="translate(633.5999999999999,577.0) scale(0.95,1)">SA</text>
<circle cx="622.4" cy="583.6" r="3.9" fill="#C77CFF"/>
<text x="0" y="0" font-size="10.6" font-weight="normal" text-anchor="start" fill="#000" transform="translate(633.5999999999999,588.0) scale(0.95,1)">SS</text>
<circle cx="622.4" cy="594.5" r="3.9" fill="#7CAE00"/>
<text x="0" y="0" font-size="10.6" font-weight="normal" text-anchor="start" fill="#000" transform="translate(633.5999999999999,598.9) scale(0.95,1)">PA</text>
<text x="0" y="0" font-size="21.7" font-weight="bold" text-anchor="middle" fill="#000" transform="translate(363.5,465.6) rotate(-90)">Vector angle (°)</text>
<text x="536.7" y="644.9" font-size="18.5" font-weight="bold" text-anchor="middle" fill="#000" letter-spacing="0.45">Vector length</text>
</svg></body></html>
